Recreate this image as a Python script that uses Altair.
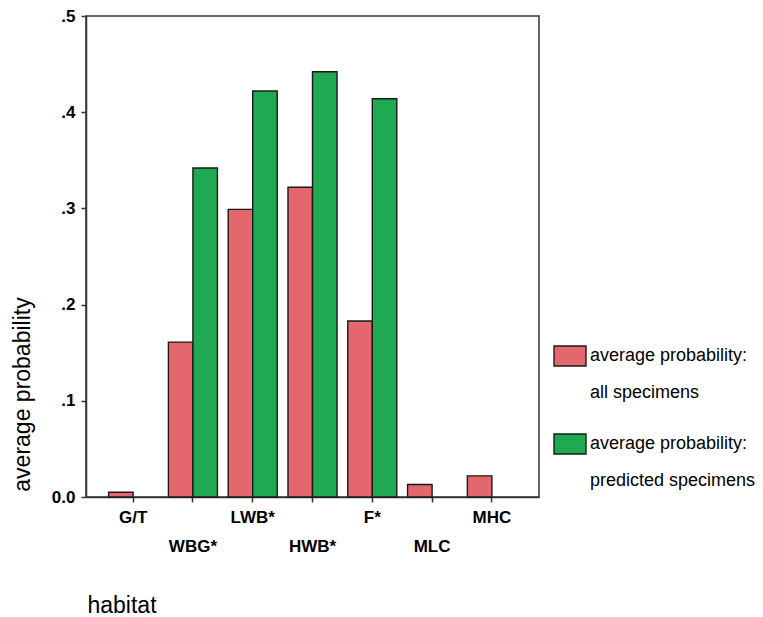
import altair as alt
import pandas as pd

# Habitat categories along the x axis, in display order
habitats = ["G/T", "WBG*", "LWB*", "HWB*", "F*", "MLC", "MHC"]

# Average probability per habitat for each series (None = no bar)
all_specimens = [0.005, 0.161, 0.299, 0.322, 0.183, 0.013, 0.022]
predicted_specimens = [None, 0.342, 0.422, 0.442, 0.414, None, None]

series_names = [
    "average probability: all specimens",
    "average probability: predicted specimens",
]
series_colors = ["#e3676c", "#1fa950"]
y_ticks = [0.0, 0.1, 0.2, 0.3, 0.4, 0.5]

rows = []
for h, a, p in zip(habitats, all_specimens, predicted_specimens):
    if a is not None:
        rows.append({"habitat": h, "series": series_names[0], "value": a})
    if p is not None:
        rows.append({"habitat": h, "series": series_names[1], "value": p})
df = pd.DataFrame(rows)

FONT = "Liberation Sans"
INK = "#333333"

# alternate tick labels drop to a second row
x_label_expr = (
    f"round(datum.index * {len(habitats) - 1}) % 2 == 1 "
    "? ['', datum.label] : datum.label"
)
y_label_expr = (
    "datum.value == 0 ? '0.0' : replace(format(datum.value, '.1f'), '0.', '.')"
)
# legend labels wrap after the colon
legend_label_expr = (
    "[slice(datum.label, 0, indexof(datum.label, ':') + 1), "
    "slice(datum.label, indexof(datum.label, ':') + 2)]"
)

# line spacing for the two-line legend labels (set on the compiled Vega legend)
legend_patch = [
    {"op": "add", "path": "/legends/0/encode/labels/update/lineHeight",
     "value": {"value": 37}},
]

chart = (
    alt.Chart(df)
    .mark_bar(stroke="#1a1a1a", strokeWidth=1.4)
    .encode(
        x=alt.X(
            "habitat:N",
            sort=habitats,
            scale=alt.Scale(domain=habitats, paddingInner=0.18, paddingOuter=0.378),
            axis=alt.Axis(
                title="habitat",
                titleFont=FONT,
                titleFontSize=23,
                titleFontWeight="normal",
                titleColor="black",
                titleAnchor="start",
                titleAlign="left",
                titleBaseline="alphabetic",
                titleX=1,
                titleY=115,
                labelAngle=0,
                labelFont=FONT,
                labelFontSize=17,
                labelFontWeight="bold",
                labelColor="black",
                labelBaseline="top",
                labelLineHeight=29,
                labelPadding=7,
                labelExpr=x_label_expr,
                tickSize=5,
                tickColor=INK,
                tickWidth=1.5,
                domainColor=INK,
                domainWidth=1.5,
            ),
        ),
        xOffset=alt.XOffset("series:N", sort=series_names,
                            scale=alt.Scale(domain=series_names)),
        y=alt.Y(
            "value:Q",
            scale=alt.Scale(domain=[0, 0.5], nice=False),
            axis=alt.Axis(
                title="average probability",
                titleFont=FONT,
                titleFontSize=23,
                titleFontWeight="normal",
                titleColor="black",
                titleAngle=270,
                titleAlign="center",
                titleBaseline="middle",
                titleX=-64,
                titleY=378,
                values=y_ticks,
                labelExpr=y_label_expr,
                labelFont=FONT,
                labelFontSize=17,
                labelFontWeight="bold",
                labelColor="black",
                labelPadding=6,
                tickSize=5,
                tickColor=INK,
                tickWidth=1.5,
                domainColor=INK,
                domainWidth=1.5,
                grid=False,
            ),
        ),
        color=alt.Color(
            "series:N",
            sort=series_names,
            scale=alt.Scale(domain=series_names, range=series_colors),
            legend=alt.Legend(
                title=None,
                orient="none",
                legendX=467,
                legendY=323,
                padding=0,
                symbolType="M-1,-0.625H1V0.625H-1Z",
                symbolSize=1024,
                symbolStrokeColor="#1a1a1a",
                symbolStrokeWidth=1.4,
                symbolOpacity=1,
                labelExpr=legend_label_expr,
                labelFont=FONT,
                labelFontSize=18,
                labelColor="black",
                labelLimit=400,
                labelOffset=3,
                rowPadding=25,
            ),
        ),
    )
    .properties(
        width=453,
        height=481,
        autosize="none",
        padding={"left": 86, "top": 16, "right": 224, "bottom": 120},
        usermeta={"embedOptions": {"patch": legend_patch}},
    )
    .configure(font=FONT)
    .configure_view(stroke=INK, strokeWidth=1.5)
)

chart.save("out.html", embed_options={"renderer": "svg", "actions": False})
